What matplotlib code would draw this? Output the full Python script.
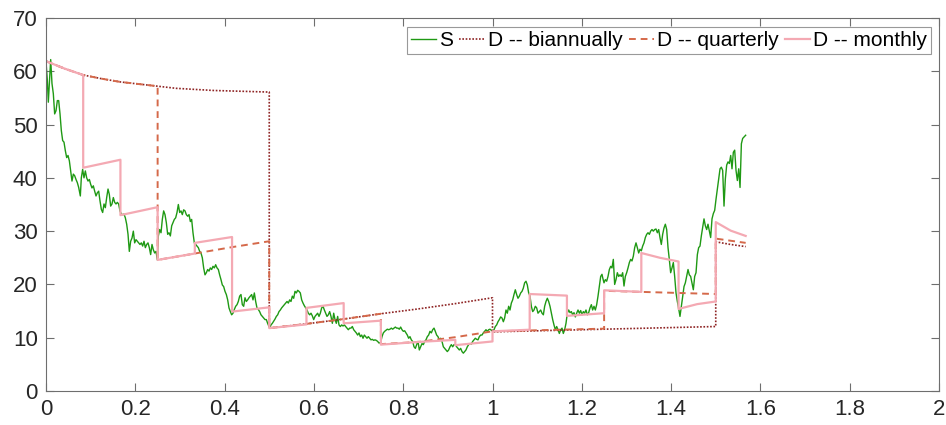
import numpy as np
import matplotlib
matplotlib.use('Agg')
import matplotlib.pyplot as plt
from matplotlib.ticker import FuncFormatter

plt.rcParams['font.family'] = ['Liberation Sans', 'DejaVu Sans']

# stock path S (time in years, price)
S_t = [0.0000, 0.0030, 0.0052, 0.0075, 0.0105, 0.0134, 0.0164, 0.0194, 0.0224, 0.0254,
       0.0284, 0.0314, 0.0343, 0.0373, 0.0403, 0.0433, 0.0463, 0.0493, 0.0523, 0.0552,
       0.0582, 0.0612, 0.0642, 0.0672, 0.0702, 0.0732, 0.0769, 0.0791, 0.0821, 0.0851,
       0.0881, 0.0911, 0.0941, 0.0971, 0.1000, 0.1030, 0.1060, 0.1090, 0.1120, 0.1150,
       0.1180, 0.1209, 0.1239, 0.1269, 0.1299, 0.1329, 0.1359, 0.1389, 0.1418, 0.1448,
       0.1478, 0.1508, 0.1538, 0.1568, 0.1598, 0.1627, 0.1657, 0.1687, 0.1717, 0.1747,
       0.1777, 0.1807, 0.1837, 0.1866, 0.1896, 0.1926, 0.1956, 0.1986, 0.2016, 0.2046,
       0.2075, 0.2105, 0.2135, 0.2165, 0.2195, 0.2225, 0.2255, 0.2284, 0.2314, 0.2344,
       0.2374, 0.2404, 0.2434, 0.2464, 0.2494,
       0.2516, 0.2546, 0.2576, 0.2605, 0.2635, 0.2665, 0.2695, 0.2725, 0.2755, 0.2785,
       0.2815, 0.2844, 0.2874, 0.2904, 0.2934, 0.2964, 0.2994, 0.3024, 0.3053, 0.3083,
       0.3113, 0.3143, 0.3173, 0.3203, 0.3233, 0.3262, 0.3292, 0.3322, 0.3352, 0.3382,
       0.3412, 0.3442, 0.3471, 0.3501, 0.3531, 0.3561, 0.3591, 0.3621, 0.3651, 0.3680,
       0.3710, 0.3740, 0.3770, 0.3800, 0.3830, 0.3860, 0.3889, 0.3919, 0.3949, 0.3979,
       0.4009, 0.4039, 0.4069, 0.4098, 0.4128, 0.4158, 0.4188, 0.4218, 0.4248, 0.4278,
       0.4307, 0.4337, 0.4367, 0.4397, 0.4427, 0.4457, 0.4487, 0.4516, 0.4546, 0.4576,
       0.4606, 0.4636, 0.4666, 0.4696, 0.4725, 0.4755, 0.4785, 0.4815, 0.4845, 0.4875,
       0.4905, 0.4935, 0.4964, 0.4994,
       0.5009, 0.5039, 0.5069, 0.5099, 0.5129, 0.5159, 0.5189, 0.5218, 0.5248, 0.5278,
       0.5308, 0.5338, 0.5368, 0.5398, 0.5427, 0.5457, 0.5487, 0.5517, 0.5547, 0.5577,
       0.5607, 0.5636, 0.5666, 0.5696, 0.5726, 0.5756, 0.5786, 0.5816, 0.5845, 0.5875,
       0.5905, 0.5935, 0.5965, 0.5995, 0.6025, 0.6055, 0.6084, 0.6114, 0.6144, 0.6174,
       0.6204, 0.6234, 0.6264, 0.6293, 0.6323, 0.6353, 0.6383, 0.6413, 0.6443, 0.6473,
       0.6502, 0.6532, 0.6562, 0.6592, 0.6622, 0.6652, 0.6682, 0.6711, 0.6741, 0.6771,
       0.6801, 0.6831, 0.6861, 0.6891, 0.6920, 0.6950, 0.6980, 0.7010, 0.7040, 0.7070,
       0.7100, 0.7129, 0.7159, 0.7189, 0.7219, 0.7249, 0.7279, 0.7309, 0.7338, 0.7368,
       0.7398, 0.7428, 0.7458,
       0.7495, 0.7525, 0.7555, 0.7585, 0.7615, 0.7645, 0.7674, 0.7704, 0.7734, 0.7764,
       0.7794, 0.7824, 0.7854, 0.7883, 0.7913, 0.7943, 0.7973, 0.8003, 0.8033, 0.8063,
       0.8092, 0.8122, 0.8152, 0.8182, 0.8212, 0.8242, 0.8272, 0.8301, 0.8331, 0.8361,
       0.8391, 0.8421, 0.8451, 0.8481, 0.8510, 0.8540, 0.8570, 0.8600, 0.8630, 0.8660,
       0.8690, 0.8719, 0.8749, 0.8779, 0.8809, 0.8839, 0.8869, 0.8899, 0.8929, 0.8958,
       0.8988, 0.9018, 0.9048, 0.9078, 0.9108, 0.9138, 0.9167, 0.9197, 0.9227, 0.9257,
       0.9287, 0.9317, 0.9347, 0.9376, 0.9406, 0.9436, 0.9466, 0.9496, 0.9526, 0.9556,
       0.9585, 0.9615, 0.9645, 0.9675, 0.9705, 0.9735, 0.9765, 0.9794, 0.9824, 0.9854,
       0.9884, 0.9914, 0.9944, 0.9974,
       1.0004, 1.0034, 1.0063, 1.0093, 1.0123, 1.0153, 1.0183, 1.0213, 1.0243, 1.0272,
       1.0302, 1.0332, 1.0362, 1.0392, 1.0422, 1.0452, 1.0481, 1.0511, 1.0541, 1.0571,
       1.0601, 1.0631, 1.0661, 1.0690, 1.0720, 1.0750, 1.0780, 1.0810, 1.0840, 1.0870,
       1.0900, 1.0929, 1.0959, 1.0989, 1.1019, 1.1049, 1.1079, 1.1109, 1.1139, 1.1168,
       1.1198, 1.1228, 1.1258, 1.1288, 1.1318, 1.1348, 1.1377, 1.1407, 1.1437, 1.1467,
       1.1497, 1.1527, 1.1557, 1.1586, 1.1616, 1.1646, 1.1676, 1.1706, 1.1736, 1.1766,
       1.1795, 1.1825, 1.1855, 1.1885, 1.1915, 1.1945, 1.1975, 1.2004, 1.2034, 1.2064,
       1.2094, 1.2124, 1.2154, 1.2184, 1.2214, 1.2243, 1.2273, 1.2303, 1.2333, 1.2363,
       1.2393, 1.2423, 1.2452,
       1.2467, 1.2497, 1.2527, 1.2557, 1.2587, 1.2617, 1.2647, 1.2676, 1.2706, 1.2736,
       1.2766, 1.2796, 1.2826, 1.2856, 1.2885, 1.2915, 1.2945, 1.2975, 1.3005, 1.3035,
       1.3065, 1.3094, 1.3124, 1.3154, 1.3184, 1.3214, 1.3244, 1.3274, 1.3303, 1.3333,
       1.3363, 1.3393, 1.3423, 1.3453, 1.3483, 1.3513, 1.3542, 1.3572, 1.3602, 1.3632,
       1.3662, 1.3692, 1.3722, 1.3751, 1.3781, 1.3811, 1.3841, 1.3871, 1.3901, 1.3931,
       1.3960, 1.3990, 1.4020, 1.4050, 1.4080, 1.4110, 1.4140, 1.4169, 1.4199, 1.4229,
       1.4259, 1.4289, 1.4319, 1.4349, 1.4379, 1.4408, 1.4438, 1.4468, 1.4498, 1.4528,
       1.4558, 1.4588, 1.4617, 1.4647, 1.4677, 1.4707, 1.4737, 1.4767, 1.4797, 1.4826,
       1.4856, 1.4886, 1.4916, 1.4946, 1.4976, 1.5006, 1.5036, 1.5066, 1.5096, 1.5125,
       1.5155, 1.5185, 1.5215, 1.5245, 1.5275, 1.5305, 1.5335, 1.5364, 1.5394, 1.5424,
       1.5454, 1.5484, 1.5514, 1.5544, 1.5574, 1.5603, 1.5670]

S_v = [61.8, 58.3, 54.2, 57.7, 62.2, 57.7, 55.8, 52.0, 52.6, 54.5,
       54.5, 52.0, 48.9, 47.0, 46.7, 45.1, 43.8, 44.2, 43.2, 41.3,
       39.4, 40.7, 40.4, 39.7, 39.1, 38.2, 36.6, 40.0, 41.6, 40.0,
       41.3, 40.0, 39.4, 39.7, 38.8, 38.1, 38.5, 37.5, 36.6, 37.2,
       37.5, 35.7, 34.1, 33.5, 35.1, 34.4, 36.3, 37.9, 36.9, 34.7,
       35.1, 36.3, 35.4, 35.1, 35.4, 35.1, 33.8, 33.2, 33.1, 33.2,
       32.5, 31.3, 29.4, 26.2, 28.1, 28.7, 30.0, 27.8, 28.4, 28.1,
       27.8, 27.5, 27.8, 27.2, 28.1, 26.9, 27.5, 27.8, 26.9, 25.6,
       27.5, 26.5, 25.9, 26.2, 24.6,
       29.1, 30.3, 29.7, 32.2, 33.8, 33.1, 31.6, 29.4, 29.7, 29.1,
       31.0, 31.6, 32.2, 32.5, 33.5, 35.0, 33.5, 33.8, 33.1, 34.0,
       33.8, 33.1, 32.8, 33.1, 31.8, 32.2, 29.7, 27.8, 27.5, 27.2,
       26.9, 26.2, 25.9, 25.0, 23.1, 21.8, 22.2, 22.8, 22.5, 23.1,
       22.8, 23.4, 23.1, 23.7, 23.1, 22.8, 21.8, 20.9, 19.9, 19.6,
       18.7, 18.1, 17.1, 15.6, 14.9, 14.3, 14.6, 15.3, 15.9, 16.2,
       16.8, 17.8, 18.1, 16.2, 15.9, 17.5, 16.8, 17.1, 17.5, 17.8,
       18.1, 17.1, 18.4, 16.8, 15.6, 15.3, 14.9, 14.3, 14.0, 13.7,
       13.4, 13.4, 12.7, 12.1,
       11.8, 12.4, 12.7, 13.1, 13.5, 14.0, 14.3, 14.9, 15.2, 15.6,
       15.9, 16.2, 16.5, 16.8, 16.5, 17.1, 16.8, 17.8, 17.4, 18.7,
       18.4, 18.9, 18.7, 18.4, 17.1, 16.5, 16.0, 15.6, 15.2, 14.6,
       14.3, 14.6, 14.1, 13.4, 14.0, 14.3, 14.6, 14.0, 14.6, 15.6,
       15.9, 15.2, 14.6, 14.0, 14.3, 14.9, 14.0, 12.7, 14.6, 13.4,
       12.7, 14.0, 12.4, 12.1, 12.4, 12.2, 12.4, 12.1, 11.8, 11.5,
       11.8, 11.8, 12.1, 11.5, 11.2, 10.9, 10.5, 10.9, 10.2, 10.5,
       9.9, 10.5, 10.2, 9.9, 10.2, 9.9, 9.6, 9.7, 9.5, 9.6,
       9.5, 9.3, 9.0,
       9.1, 10.2, 10.9, 11.2, 11.4, 11.6, 11.5, 11.6, 11.8, 11.6,
       11.8, 12.0, 11.8, 11.8, 11.6, 12.0, 11.5, 11.2, 11.3, 10.9,
       10.5, 9.9, 10.2, 9.6, 9.3, 8.3, 8.0, 8.7, 9.3, 7.7,
       8.3, 8.9, 8.7, 9.3, 9.6, 10.2, 10.5, 11.2, 10.9, 11.5,
       11.8, 11.2, 10.5, 10.2, 9.6, 9.9, 9.3, 8.3, 8.0, 7.7,
       7.4, 7.7, 8.3, 8.7, 8.3, 8.7, 8.7, 8.3, 8.0, 7.7,
       8.0, 7.4, 7.1, 7.4, 7.7, 8.3, 8.7, 8.9, 8.8, 9.3,
       9.6, 9.9, 9.7, 9.6, 10.2, 10.5, 10.5, 10.9, 11.2, 11.5,
       11.2, 11.5, 11.6, 11.4,
       11.2, 11.5, 12.1, 12.4, 13.0, 13.4, 13.9, 13.7, 13.0, 13.7,
       15.2, 14.6, 15.9, 15.2, 16.5, 17.1, 18.1, 19.0, 18.1, 17.4,
       17.8, 18.4, 18.7, 19.3, 20.3, 20.6, 19.9, 18.4, 17.8, 15.9,
       14.9, 15.2, 15.9, 15.6, 14.6, 14.9, 15.2, 14.6, 14.3, 15.9,
       16.8, 17.4, 16.8, 15.9, 14.6, 13.4, 12.4, 11.5, 12.1, 11.5,
       10.8, 11.5, 11.8, 10.8, 11.5, 12.7, 14.6, 15.2, 14.7, 14.9,
       14.3, 14.7, 13.9, 14.6, 15.2, 14.6, 15.1, 14.3, 14.9, 14.6,
       15.2, 14.3, 14.7, 15.6, 16.2, 15.2, 15.9, 15.2, 16.2, 17.8,
       19.7, 21.5, 21.9,
       21.3, 20.3, 20.9, 20.6, 21.5, 22.8, 23.4, 23.1, 24.7, 20.0,
       20.9, 22.2, 21.5, 21.8, 21.5, 22.2, 19.7, 21.5, 22.2, 23.1,
       24.1, 24.7, 24.4, 25.3, 26.9, 27.8, 26.9, 25.9, 26.6, 26.3,
       27.2, 27.8, 28.8, 29.4, 29.7, 29.4, 30.0, 30.3, 30.0, 30.3,
       30.4, 29.7, 30.3, 28.8, 27.5, 29.4, 30.6, 31.3, 30.3, 26.9,
       24.7, 22.2, 23.1, 24.1, 21.5, 18.4, 16.8, 15.5, 14.0, 15.8,
       17.7, 19.6, 20.3, 21.5, 22.8, 21.8, 21.5, 20.3, 19.0, 21.5,
       22.2, 25.6, 26.9, 27.2, 29.1, 30.7, 32.3, 31.0, 30.3, 31.3,
       30.0, 28.8, 32.3, 33.3, 33.9, 36.0, 37.9, 39.8, 41.7, 42.0,
       41.4, 34.7, 39.8, 42.4, 43.0, 42.7, 44.2, 41.7, 44.8, 45.2,
       41.4, 39.5, 41.7, 38.2, 46.4, 47.4, 48.0]

# D reset biannually
Db_t = [0, 0.0417, 0.0833, 0.125, 0.1667, 0.2083, 0.25, 0.2917, 0.3333, 0.375, 0.4167,
        0.4583, 0.5, 0.5, 0.5833, 0.6667, 0.75, 0.8333, 0.9167, 1.0, 1.0, 1.25, 1.5,
        1.5, 1.5333, 1.567]
Db_v = [61.9, 60.5, 59.3, 58.6, 58.0, 57.6, 57.2, 56.8, 56.6, 56.4, 56.3,
        56.2, 56.1, 11.8, 12.6, 13.5, 14.5, 15.4, 16.4, 17.5, 11.1, 11.6, 12.1,
        28.0, 27.5, 27.1]

# D reset quarterly
Dq_t = [0, 0.0417, 0.0833, 0.125, 0.1667, 0.2083, 0.25, 0.25, 0.3333, 0.4167, 0.5,
        0.5, 0.5833, 0.6667, 0.75, 0.75, 0.8333, 0.9167, 1.0, 1.25, 1.25, 1.3333,
        1.4167, 1.5, 1.5, 1.5333, 1.567]
Dq_v = [61.9, 60.5, 59.3, 58.6, 58.0, 57.6, 57.2, 24.6, 25.8, 27.0, 28.1,
        11.8, 12.6, 13.5, 14.5, 8.8, 9.2, 10.1, 11.2, 11.7, 18.8, 18.6,
        18.4, 18.2, 28.6, 28.2, 27.8]

# D reset monthly
Dm_t = [0, 0.0417, 0.0833, 0.0833, 0.1667, 0.1667, 0.25, 0.25, 0.3333, 0.3333, 0.4167,
        0.4167, 0.5, 0.5, 0.5833, 0.5833, 0.6667, 0.6667, 0.75, 0.75, 0.8333, 0.9167,
        0.9167, 1.0, 1.0, 1.0833, 1.0833, 1.1667, 1.1667, 1.25, 1.25, 1.3333, 1.3333,
        1.375, 1.4167, 1.4167, 1.4583, 1.5, 1.5, 1.5333, 1.567]
Dm_v = [61.9, 60.5, 59.3, 41.9, 43.4, 33.0, 34.5, 24.6, 25.8, 27.8, 28.9,
        14.9, 15.7, 11.8, 12.5, 15.6, 16.5, 12.7, 13.2, 8.7, 9.2, 9.6,
        8.6, 9.3, 11.2, 11.5, 18.2, 17.9, 14.1, 14.6, 18.9, 18.6, 25.9,
        25.0, 24.3, 15.4, 16.3, 16.8, 31.7, 30.1, 29.1]

x_ticks = [0, 0.2, 0.4, 0.6, 0.8, 1.0, 1.2, 1.4, 1.6, 1.8, 2.0]
y_ticks = [0, 10, 20, 30, 40, 50, 60, 70]

fig = plt.figure(figsize=(9.46, 4.25), dpi=100)
ax = fig.add_axes([46 / 946, 34 / 425, 893 / 946, 373 / 425])

ax.plot(S_t, S_v, color='#1f9914', lw=1.0, label='S')
ax.plot(Db_t, Db_v, color='#8e2323', lw=1.2, ls=(0, (1, 1)), label='D -- biannually')
ax.plot(Dq_t, Dq_v, color='#d5694a', lw=1.4, ls=(0, (3.5, 2.5)), label='D -- quarterly')
ax.plot(Dm_t, Dm_v, color='#f4a9b3', lw=1.6, label='D -- monthly')

ax.set_xlim(0, 2)
ax.set_ylim(0, 70)
ax.set_xticks(x_ticks)
ax.set_yticks(y_ticks)
ax.xaxis.set_major_formatter(FuncFormatter(lambda v, p: '{:g}'.format(v)))
ax.tick_params(direction='in', length=5.8, width=0.8, color='#6e6e6e',
               labelsize=16, labelcolor='#262626', top=True, right=True, pad=6)
for sp in ax.spines.values():
    sp.set_color('#6e6e6e')
    sp.set_linewidth(0.8)

leg = ax.legend(loc='upper right', bbox_to_anchor=(0.991, 0.976), borderaxespad=0,
                ncol=4, fontsize=15, handlelength=1.2, handletextpad=0.15,
                columnspacing=0.3, borderpad=0.2, fancybox=False, framealpha=1)
leg.get_frame().set_edgecolor('#999999')
leg.get_frame().set_linewidth(0.8)

fig.savefig('out.png', dpi=100)
